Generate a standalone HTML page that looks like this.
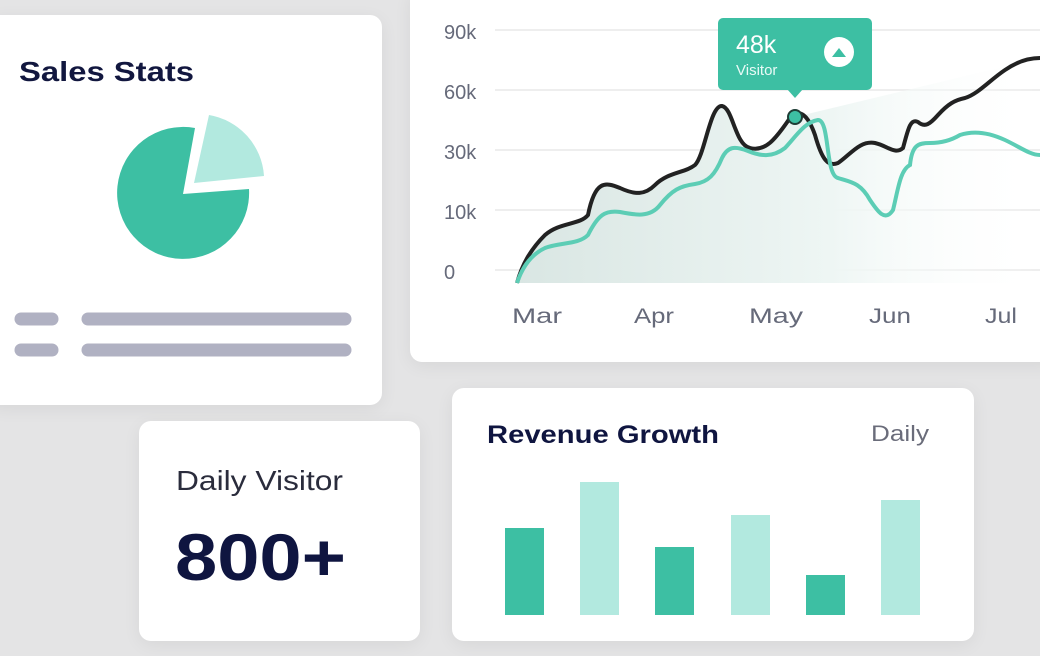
<!DOCTYPE html>
<html><head><meta charset="utf-8"><style>
body{margin:0;width:1040px;height:656px;background:#e4e4e5;overflow:hidden;position:relative;font-family:"Liberation Sans",sans-serif}
.card{position:absolute;background:#fff;border-radius:12px;box-shadow:0 4px 18px rgba(0,0,0,0.06)}
</style></head><body>
<div class="card" style="left:-12px;top:15px;width:394px;height:390px"></div>
<div class="card" style="left:410px;top:-12px;width:650px;height:374px"></div>
<div class="card" style="left:139px;top:421px;width:281px;height:220px"></div>
<div class="card" style="left:452px;top:388px;width:522px;height:253px"></div>
<svg width="1040" height="656" style="position:absolute;left:0;top:0" font-family="Liberation Sans, sans-serif">
<defs><linearGradient id="g" x1="0" x2="1" y1="0" y2="0"><stop offset="0" stop-color="#d9e6e3"/><stop offset="0.6" stop-color="#eef6f4"/><stop offset="1" stop-color="#fff" stop-opacity="0"/></linearGradient></defs>
<text x="19" y="81" font-size="28" font-weight="bold" fill="#12173f" textLength="175" lengthAdjust="spacingAndGlyphs">Sales Stats</text>
<path d="M183,194 L195,128 A66,66 0 1 0 249,189 Z" fill="#3dbfa3"/>
<path d="M194,183 L209,115 A66,66 0 0 1 264,176 Z" fill="#b2e9df"/>
<g stroke="#b0b1c2" stroke-width="13" stroke-linecap="round">
<line x1="21" y1="319" x2="52" y2="319"/><line x1="88" y1="319" x2="345" y2="319"/>
<line x1="21" y1="350" x2="52" y2="350"/><line x1="88" y1="350" x2="345" y2="350"/></g>
<g stroke="#eeeeee" stroke-width="2"><line x1="495" y1="30" x2="1040" y2="30"/><line x1="495" y1="90" x2="1040" y2="90"/><line x1="495" y1="150" x2="1040" y2="150"/><line x1="495" y1="210" x2="1040" y2="210"/><line x1="495" y1="270" x2="1040" y2="270"/></g>
<g font-size="20" fill="#666a7a"><text x="444" y="39">90k</text><text x="444" y="99">60k</text><text x="444" y="159">30k</text><text x="444" y="219">10k</text><text x="444" y="279">0</text></g>
<g font-size="21" fill="#666a7a" lengthAdjust="spacingAndGlyphs">
<text x="512" y="323" textLength="50" lengthAdjust="spacingAndGlyphs">Mar</text><text x="634" y="323" textLength="40" lengthAdjust="spacingAndGlyphs">Apr</text><text x="749" y="323" textLength="54" lengthAdjust="spacingAndGlyphs">May</text><text x="869" y="323" textLength="42" lengthAdjust="spacingAndGlyphs">Jun</text><text x="985" y="323" textLength="32" lengthAdjust="spacingAndGlyphs">Jul</text></g>
<path d="M517,283 C522,265 530,250 545,235 C560,222 580,225 588,215 C595,180 605,182 620,188 C635,195 645,195 655,185 C668,172 685,173 695,165 C705,155 710,105 722,106 C733,108 735,145 750,148 C765,152 775,140 795,117 L1040,58 L1040,283 Z" fill="url(#g)"/>
<path d="M517,283 C522,265 530,250 545,235 C560,222 580,225 588,215 C595,180 605,182 620,188 C635,195 645,195 655,185 C668,172 685,173 695,165 C705,155 710,105 722,106 C733,108 735,145 750,148 C765,152 775,140 790,118 C800,108 808,115 815,135 C822,160 828,167 838,163 C850,155 860,140 875,143 C888,146 895,155 903,148 C908,130 910,118 918,122 C925,128 930,124 938,115 C948,104 955,100 965,98 C978,94 990,80 1005,70 C1018,61 1030,58 1040,58" fill="none" stroke="#222" stroke-width="4"/>
<path d="M517,283 C522,268 530,255 545,248 C560,242 578,245 588,235 C598,215 605,210 620,212 C635,215 650,218 660,205 C672,190 680,186 695,184 C708,182 715,175 722,158 C728,146 735,146 748,151 C760,156 772,158 785,148 C797,135 805,122 818,120 C830,120 825,175 838,178 C850,182 860,182 870,200 C878,212 885,222 893,210 C898,190 900,170 910,165 C912,145 918,143 930,143 C945,143 955,138 960,135 C975,130 990,133 1005,140 C1020,147 1030,155 1040,155" fill="none" stroke="#5ccdb5" stroke-width="4"/>
<circle cx="795" cy="117" r="7" fill="#3dbfa3" stroke="#1f3d36" stroke-width="2"/>
<rect x="718" y="18" width="154" height="72" rx="5" fill="#3dbfa3"/>
<path d="M787,89 L795,98 L803,89 Z" fill="#3dbfa3"/>
<text x="736" y="53" font-size="25" fill="#fff">48k</text>
<text x="736" y="75" font-size="15" fill="#e8faf6">Visitor</text>
<circle cx="839" cy="52" r="15" fill="#fff"/><path d="M832,57 L839,48 L846,57 Z" fill="#3dbfa3"/>
<text x="176" y="490" font-size="28" fill="#2a2c3c" textLength="167" lengthAdjust="spacingAndGlyphs">Daily Visitor</text>
<text x="175" y="580" font-size="66" font-weight="bold" fill="#0f1540" textLength="171" lengthAdjust="spacingAndGlyphs">800+</text>
<text x="487" y="443" font-size="25" font-weight="bold" fill="#0f1540" textLength="232" lengthAdjust="spacingAndGlyphs">Revenue Growth</text>
<text x="871" y="441" font-size="22" fill="#6a6c7a" textLength="58" lengthAdjust="spacingAndGlyphs">Daily</text>
<g fill="#3dbfa3"><rect x="505" y="528" width="39" height="87"/><rect x="655" y="547" width="39" height="68"/><rect x="806" y="575" width="39" height="40"/></g>
<g fill="#b2e9df"><rect x="580" y="482" width="39" height="133"/><rect x="731" y="515" width="39" height="100"/><rect x="881" y="500" width="39" height="115"/></g>
</svg>
</body></html>
